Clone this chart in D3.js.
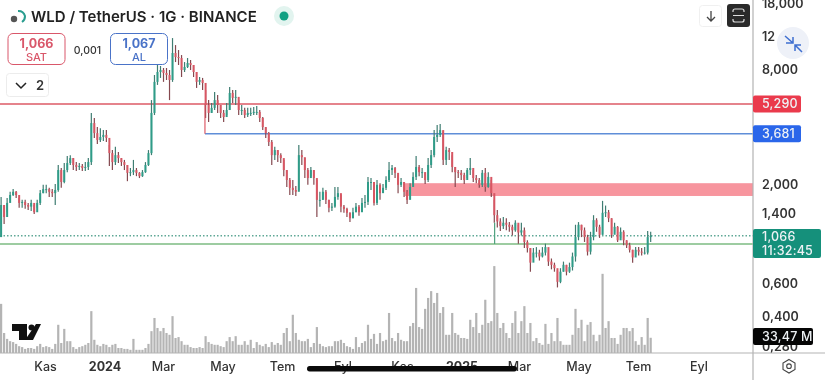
<!DOCTYPE html>
<html>
<head>
<meta charset="utf-8">
<script src="https://cdn.jsdelivr.net/npm/d3@7"></script>
<style>
	html, body { margin:0; padding:0; background:#fff; }
	svg { display:block; font-family:Inter, "Liberation Sans", sans-serif; }
	svg .blurred { filter:blur(0.45px); }
</style>
</head>
<body>
<svg id="chart" width="825" height="380"></svg>
<script>
// Candle every 74 hours, starting mid september 2023
var firstBarDate = new Date(2023, 8, 17);
var barHours = 74;
var firstOpen = 1.05;

var closes = [
	1.55,1.34,1.59,1.75,1.82,1.75,1.59,1.61,1.55,1.52,
	1.59,1.42,1.59,1.79,1.88,1.88,1.82,1.79,1.86,2.37,
	2.05,2.37,2.58,2.74,2.52,2.46,2.49,2.43,2.46,2.61,
	4.19,3.71,3.41,3.54,3.63,3.50,2.91,2.61,2.84,2.74,
	2.61,2.52,2.29,2.31,2.37,2.29,2.20,2.31,2.52,2.91,
	4.74,6.91,7.79,7.98,7.70,7.51,7.07,9.81,9.34,9.23,
	7.98,8.28,8.69,8.48,7.79,6.91,7.07,6.82,5.22,4.74,
	5.04,5.54,5.22,4.74,4.51,4.91,6.04,5.69,5.76,4.91,
	4.91,4.62,4.74,4.74,4.80,4.80,4.46,3.99,3.71,3.33,
	2.84,3.02,2.84,2.74,2.37,2.10,1.91,1.86,1.82,2.84,
	2.77,2.37,2.15,2.37,2.15,1.65,1.65,1.82,1.65,1.50,
	1.52,1.71,1.79,1.52,1.48,1.41,1.32,1.42,1.52,1.42,
	1.59,1.61,2.05,2.05,1.59,1.98,1.79,1.91,2.10,2.37,
	2.43,2.29,1.98,2.05,1.82,1.65,1.93,2.18,2.46,2.31,
	2.31,2.10,2.52,2.84,3.54,3.63,3.85,2.68,3.02,2.95,
	2.46,2.31,2.29,2.23,2.10,2.37,2.43,2.15,2.10,1.98,
	2.29,1.93,2.18,1.79,1.37,1.27,1.20,1.25,1.22,1.19,
	1.14,1.25,1.11,1.14,.99,.92,.77,.87,.87,.83,
	.87,.93,.78,.75,.72,.61,.69,.75,.69,.73,
	.83,1.05,1.22,1.14,1.05,.88,1.05,1.29,1.19,1.08,
	1.41,1.42,1.32,1.08,1.19,1.01,1.12,1.01,.95,.90,
	.82,.90,.88,.87,.87,1.05,1.066
];
var highs = [
	1.71,1.55,1.69,1.82,1.88,1.84,1.69,1.65,1.65,1.59,
	1.65,1.55,1.65,1.86,1.98,1.98,1.91,1.88,2.00,2.52,
	2.43,2.58,2.81,2.84,2.74,2.61,2.58,2.55,2.61,2.74,
	4.74,4.46,3.99,3.94,3.85,3.85,3.21,3.02,3.14,2.95,
	2.74,2.68,2.52,2.43,2.68,2.43,2.31,2.37,2.61,3.02,
	5.54,7.51,8.48,8.38,8.18,8.18,7.98,11.76,10.80,10.17,
	9.57,8.79,9.23,9.01,8.48,7.79,7.33,7.25,6.26,5.54,
	5.35,6.12,5.90,5.22,4.91,5.35,6.50,6.26,6.26,5.54,
	5.22,5.04,5.04,5.04,5.10,5.16,4.91,4.51,3.99,3.76,
	3.41,3.14,3.02,2.91,2.68,2.37,2.15,2.10,1.95,3.21,
	3.02,2.74,2.43,2.46,2.37,2.10,1.82,1.91,1.86,1.65,
	1.59,1.93,1.93,1.75,1.55,1.50,1.42,1.50,1.59,1.55,
	1.69,1.75,2.18,2.15,1.98,2.10,2.02,2.00,2.20,2.61,
	2.52,2.46,2.23,2.15,2.05,1.86,2.02,2.31,2.81,2.52,
	2.43,2.31,2.74,3.02,3.85,4.09,4.14,3.80,3.14,3.10,
	2.84,2.46,2.37,2.37,2.29,2.43,2.74,2.37,2.23,2.15,
	2.37,2.43,2.31,2.10,1.65,1.46,1.32,1.34,1.32,1.26,
	1.22,1.29,1.22,1.25,1.18,1.01,.92,.92,.93,.90,
	.93,.97,.87,.81,.77,.70,.72,.78,.75,.77,
	.87,1.22,1.26,1.22,1.18,1.08,1.12,1.37,1.32,1.22,
	1.63,1.54,1.46,1.32,1.25,1.20,1.18,1.14,1.01,.98,
	.90,.93,.93,.92,.93,1.13,1.12
];
var lows = [
	1.05,1.23,1.42,1.65,1.73,1.69,1.50,1.50,1.48,1.46,
	1.44,1.39,1.50,1.55,1.79,1.79,1.71,1.71,1.55,1.82,
	1.91,2.02,2.31,2.52,2.37,2.34,2.37,2.34,2.34,2.37,
	2.52,3.50,3.25,3.33,3.37,3.33,2.49,2.37,2.52,2.58,
	2.49,2.37,2.07,2.20,2.23,2.20,2.15,2.18,2.29,2.49,
	2.84,4.62,6.66,7.25,6.91,7.07,5.54,6.91,8.79,8.48,
	7.33,7.79,8.18,7.98,7.33,6.42,6.66,6.26,4.46,4.25,
	4.74,4.91,4.74,4.46,4.25,4.62,4.91,5.35,5.22,4.62,
	4.62,4.46,4.51,4.57,4.62,4.62,4.25,3.85,3.50,3.17,
	2.52,2.68,2.61,2.58,2.20,1.93,1.75,1.75,1.73,1.86,
	2.52,2.15,1.98,2.20,1.98,1.34,1.52,1.65,1.57,1.42,
	1.44,1.50,1.65,1.42,1.41,1.34,1.26,1.32,1.42,1.36,
	1.50,1.50,1.55,1.86,1.54,1.55,1.65,1.82,1.86,2.05,
	2.23,2.15,1.79,1.93,1.71,1.57,1.75,1.98,2.10,2.20,
	2.15,2.00,2.05,2.43,2.77,3.33,3.54,2.52,2.52,2.68,
	2.31,1.93,2.15,2.10,2.00,2.15,2.23,2.05,2.02,1.91,
	1.93,1.82,1.91,1.71,1.25,1.18,1.13,1.16,1.14,1.12,
	1.07,1.12,.97,1.07,.92,.87,.69,.82,.82,.79,
	.82,.84,.74,.71,.69,.57,.60,.69,.66,.68,
	.70,.78,1.01,1.05,.99,.84,.85,1.01,1.12,1.04,
	1.08,1.34,1.26,1.04,1.11,.99,1.04,.95,.92,.87,
	.77,.85,.84,.84,.85,.85,.99
];
// millions
var volumes = [
	108,44,31,26,24,20,15,13,9,11,
	11,9,15,20,13,15,13,9,20,62,
	22,53,26,26,13,9,13,15,18,22,
	92,29,18,15,20,18,13,18,20,11,
	11,9,9,7,31,7,7,7,11,20,
	48,77,55,48,55,44,40,81,33,35,
	26,18,18,13,11,11,13,11,37,24,
	20,18,18,15,13,26,35,26,37,18,
	18,26,18,29,11,24,18,15,20,13,
	24,18,22,18,44,55,26,84,44,29,
	26,26,31,13,22,57,20,15,13,15,
	15,26,26,29,22,15,13,9,35,13,
	22,26,62,31,42,20,44,26,29,88,
	33,26,44,29,26,26,59,66,143,57,
	53,97,121,136,110,132,88,101,40,40,
	88,44,40,33,33,31,73,57,88,44,
	62,117,66,70,191,88,55,66,44,33,
	66,92,44,70,103,44,66,26,33,22,
	18,64,20,44,26,77,26,18,18,18,
	40,97,55,73,26,62,68,40,26,40,
	174,55,70,33,33,20,40,55,55,48,
	55,26,18,35,18,77,33.47
];

var priceTicks = [18, 12, 8, 2, 1.4, 0.6, 0.4, 0.28];
var priceTickLabels = ["18,000", "12", "8,000", "2,000", "1,400", "0,600", "0,400", "0,280"];

var timeTicks = [
	new Date(2023,10,1), new Date(2024,0,1), new Date(2024,2,1), new Date(2024,4,1),
	new Date(2024,6,1), new Date(2024,8,1), new Date(2024,10,1), new Date(2025,0,1),
	new Date(2025,2,1), new Date(2025,4,1), new Date(2025,6,1), new Date(2025,8,1)
];
var timeTickLabels = ["Kas","2024","Mar","May","Tem","Eyl","Kas","2025","Mar","May","Tem","Eyl"];

var redLevel = 5.29;
var blueLevel = 3.681;
var greenLevel = 0.966;
var lastPrice = 1.066;
var blueLevelStart = new Date(2024,3,13);
var greenAnchorDate = new Date(2025,1,4);
var greenAnchorTop = 1.25;
var zoneTop = 2.02;
var zoneBottom = 1.73;
var zoneStart = new Date(2024,10,4);

var bars = closes.map(function(c, i){
	return {
		date: d3.timeHour.offset(firstBarDate, i*barHours),
		open: i ? closes[i-1] : firstOpen,
		close: c, high: highs[i], low: lows[i], volume: volumes[i]
	};
});

var plotRight = 753, baseY = 353;
var colors = {
	up:"#2f9c88", down:"#d85663", upWick:"#3f7d72", downWick:"#85484f",
	red:"#dd5a66", blue:"#5f8ed8", green:"#7dbb82", zone:"#f7959e", volume:"#b4b4b4",
	axis:"#b3b3b3", text:"#333"
};

var svg = d3.select("#chart");
var root = svg.append("g").attr("class", "blurred");

var x = d3.scaleTime()
	.domain([new Date(2023,10,1), new Date(2025,6,1)])
	.range([45, 638]);
var y = d3.scaleLog()
	.domain([0.28, 18])
	.range([346, 3]);
var yVol = d3.scaleLinear()
	.domain([0, 100])
	.range([baseY, baseY-45.5]);

// Volume first, candles go over it
root.append("g").selectAll("rect")
	.data(bars)
	.enter().append("rect")
	.attr("x", function(d){ return x(d.date)-1.1; })
	.attr("y", function(d){ return yVol(d.volume); })
	.attr("width", 2.2)
	.attr("height", function(d){ return baseY-yVol(d.volume); })
	.attr("fill", colors.volume);

// Levels and zone
root.append("rect")
	.attr("x", x(zoneStart))
	.attr("y", y(zoneTop))
	.attr("width", plotRight-x(zoneStart))
	.attr("height", y(zoneBottom)-y(zoneTop))
	.attr("fill", colors.zone);

function hLine(price, x1, color, dash){
	root.append("line")
		.attr("x1", x1).attr("x2", plotRight)
		.attr("y1", y(price)).attr("y2", y(price))
		.attr("stroke", color)
		.attr("stroke-width", 1.5)
		.attr("stroke-dasharray", dash || null);
}
hLine(redLevel, 0, colors.red);
hLine(blueLevel, x(blueLevelStart), colors.blue);
hLine(greenLevel, 0, colors.green);
hLine(lastPrice, 0, "#5fa896", "1.5 2");

// Candles
var candle = root.append("g").selectAll("g")
	.data(bars)
	.enter().append("g");
candle.append("line")
	.attr("x1", function(d){ return x(d.date); })
	.attr("x2", function(d){ return x(d.date); })
	.attr("y1", function(d){ return y(d.high); })
	.attr("y2", function(d){ return y(d.low); })
	.attr("stroke", function(d){ return d.close>=d.open ? colors.upWick : colors.downWick; })
	.attr("stroke-width", 1.2);
candle.append("rect")
	.attr("x", function(d){ return x(d.date)-1; })
	.attr("y", function(d){ return y(Math.max(d.open, d.close)); })
	.attr("width", 2)
	.attr("height", function(d){ return Math.max(1, Math.abs(y(d.open)-y(d.close))); })
	.attr("fill", function(d){ return d.close>=d.open ? colors.up : colors.down; });

// Anchors of the two drawn levels
root.append("line")
	.attr("x1", x(greenAnchorDate)).attr("x2", x(greenAnchorDate))
	.attr("y1", y(greenAnchorTop)).attr("y2", y(greenLevel))
	.attr("stroke", "#4fa27e")
	.attr("stroke-width", 1.2);
root.append("line")
	.attr("x1", x(blueLevelStart)).attr("x2", x(blueLevelStart))
	.attr("y1", y(redLevel)).attr("y2", y(blueLevel))
	.attr("stroke", colors.red)
	.attr("stroke-width", 1.2);

// Price scale panel covers anything past the plot
root.append("rect")
	.attr("x", plotRight).attr("y", 0)
	.attr("width", 825-plotRight).attr("height", 380)
	.attr("fill", "#fff");

var yAxis = d3.axisRight(y)
	.tickValues(priceTicks)
	.tickSize(0)
	.tickPadding(9)
	.tickFormat(function(d, i){ return priceTickLabels[i]; });
root.append("g")
	.attr("transform", "translate(" + plotRight + ",0)")
	.call(yAxis)
	.call(function(g){ g.select(".domain").remove(); })
	.selectAll("text")
	.attr("font-size", "12.5px")
	.attr("font-weight", 600)
	.attr("font-family", "Inter")
	.attr("fill", colors.text);

var xAxis = d3.axisBottom(x)
	.tickValues(timeTicks)
	.tickSize(0)
	.tickPadding(9)
	.tickFormat(function(d, i){ return timeTickLabels[i]; });
root.append("g")
	.attr("transform", "translate(0," + baseY + ")")
	.call(xAxis)
	.call(function(g){ g.select(".domain").remove(); })
	.selectAll("text")
	.attr("font-size", "12.5px")
	.attr("font-family", "Inter")
	.attr("font-weight", function(d, i){ return timeTickLabels[i].length==4 ? 700 : 500; })
	.attr("fill", colors.text);

root.append("line")
	.attr("x1", 0).attr("x2", 825).attr("y1", baseY).attr("y2", baseY)
	.attr("stroke", colors.axis).attr("stroke-width", 1.2);
root.append("line")
	.attr("x1", plotRight).attr("x2", plotRight).attr("y1", 0).attr("y2", 380)
	.attr("stroke", colors.axis).attr("stroke-width", 1.2);

// Price tags
function priceTag(top, w, h, fill, lines, rx){
	root.append("rect")
		.attr("x", plotRight).attr("y", top)
		.attr("width", w).attr("height", h)
		.attr("rx", rx).attr("fill", fill);
	lines.forEach(function(t, i){
		root.append("text")
			.attr("x", plotRight+9)
			.attr("y", top+ (lines.length>1 ? 12+i*14 : h/2+4.5))
			.attr("font-size", "12.5px")
			.attr("font-weight", 500)
			.attr("letter-spacing", "0.2px")
			.attr("fill", "#eef2f5")
			.text(t);
	});
}
priceTag(y(redLevel)-8.5, 48, 17, "#ea3a4c", ["5,290"], 2);
priceTag(y(blueLevel)-8.5, 48, 17, "#2a66ea", ["3,681"], 2);
priceTag(229, 68, 29, "#15907b", ["1,066", "11:32:45"], 2);
priceTag(328, 60, 17, "#050505", ["33,47 M"], 2);

// Header and overlay buttons
var title = root.append("g");
title.append("path")
	.attr("d", "M18 11 A7 7 0 0 1 25 16 A7 7 0 0 1 22 22")
	.attr("fill", "none").attr("stroke", "#2a9d8f").attr("stroke-width", 2);
title.append("circle").attr("cx", 14).attr("cy", 19).attr("r", 3.2).attr("fill", "#555");
title.append("text")
	.attr("x", 31).attr("y", 22)
	.attr("font-size", "15px").attr("font-weight", 600)
	.attr("fill", "#222")
	.text("WLD / TetherUS · 1G · BINANCE");
title.append("circle").attr("cx", 284).attr("cy", 16).attr("r", 10).attr("fill", "#e2f4ef");
title.append("circle").attr("cx", 284).attr("cy", 16).attr("r", 4.5).attr("fill", "#12a083");

function tradeBox(left, color, value, label){
	root.append("rect")
		.attr("x", left).attr("y", 33.5)
		.attr("width", 57).attr("height", 31)
		.attr("rx", 5)
		.attr("fill", "#fff").attr("stroke", color).attr("stroke-width", 1);
	root.append("text")
		.attr("x", left+28.5).attr("y", 48)
		.attr("text-anchor", "middle")
		.attr("font-size", "12.5px").attr("font-weight", 700)
		.attr("fill", color)
		.text(value);
	root.append("text")
		.attr("x", left+28.5).attr("y", 61)
		.attr("text-anchor", "middle")
		.attr("font-size", "11px").attr("font-weight", 500)
		.attr("fill", color)
		.text(label);
}
tradeBox(8, "#d9576a", "1,066", "SAT");
tradeBox(110.5, "#4a73c8", "1,067", "AL");
root.append("text")
	.attr("x", 87.5).attr("y", 54)
	.attr("text-anchor", "middle")
	.attr("font-size", "10.5px").attr("font-weight", 500)
	.attr("fill", "#333")
	.text("0,001");

root.append("rect")
	.attr("x", 6.5).attr("y", 73.5)
	.attr("width", 42).attr("height", 23)
	.attr("rx", 3)
	.attr("fill", "#fff").attr("stroke", "#ececec");
root.append("path")
	.attr("d", "M16 83 L21 88 L26 83")
	.attr("fill", "none").attr("stroke", "#222").attr("stroke-width", 1.5);
root.append("text")
	.attr("x", 40).attr("y", 90)
	.attr("text-anchor", "middle")
	.attr("font-size", "13px").attr("font-weight", 600)
	.attr("fill", "#333")
	.text("2");

root.append("rect")
	.attr("x", 699.5).attr("y", 5.5)
	.attr("width", 22).attr("height", 21)
	.attr("rx", 3)
	.attr("fill", "#fff").attr("stroke", "#f0f0f0");
root.append("path")
	.attr("d", "M711 11 V21 M707 17 L711 21 L715 17")
	.attr("fill", "none").attr("stroke", "#444").attr("stroke-width", 1.3);
root.append("rect")
	.attr("x", 727).attr("y", 4)
	.attr("width", 23).attr("height", 23)
	.attr("rx", 3)
	.attr("fill", "#2a2a2a");
root.append("path")
	.attr("d", "M733 12 V11 Q733 9 735 9 H742 Q744 9 744 11 V12 M733 19 V20 Q733 22 735 22 H742 Q744 22 744 20 V19 M733 15.500 H744")
	.attr("fill", "none").attr("stroke", "#ddd").attr("stroke-width", 1.2);

root.append("circle").attr("cx", 793).attr("cy", 43).attr("r", 16).attr("fill", "#eef1f8");
root.append("path")
	.attr("d", "M785 36 L793 43 M793 37 V43 H786 M802 52 L795 45 M795 51 V45 H801")
	.attr("fill", "none").attr("stroke", "#3f6fd0").attr("stroke-width", 1.5);

// Logo
root.append("path")
	.attr("d", "M12 324 H27 V340 H19 V331 H12 Z M36 324 H41 L33 340 H25 Z")
	.attr("fill", "#111");
root.append("circle").attr("cx", 31.500).attr("cy", 327.500).attr("r", 3).attr("fill", "#111");

// Gear
root.append("path")
	.attr("d", "M789 359.500 L795 363 V369.500 L789 373 L783 369.500 V363 Z")
	.attr("fill", "none").attr("stroke", "#444").attr("stroke-width", 1.1);
root.append("circle").attr("cx", 789).attr("cy", 366.200).attr("r", 2.3)
	.attr("fill", "none").attr("stroke", "#444").attr("stroke-width", 1.1);

// Black smear over the date labels
root.append("rect")
	.attr("x", 307).attr("y", 366)
	.attr("width", 210).attr("height", 5.5)
	.attr("rx", 2.7)
	.attr("fill", "#0a0a0a");
</script>
</body>
</html>
